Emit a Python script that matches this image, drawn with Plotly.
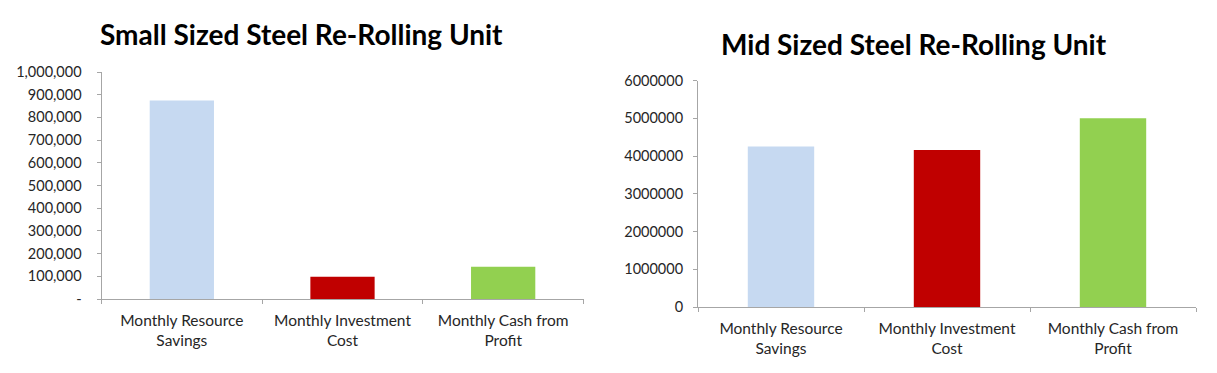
import plotly.graph_objects as go

categories = ["Monthly Resource<br>Savings", "Monthly Investment<br>Cost", "Monthly Cash from<br>Profit"]
colors = ["#c6d9f1", "#c00000", "#92d050"]

small_values = [875000, 98000, 142000]
mid_values = [4250000, 4160000, 5000000]

small_ticks = [0, 100000, 200000, 300000, 400000, 500000, 600000, 700000, 800000, 900000, 1000000]
small_ticklabels = ["-", "100,000", "200,000", "300,000", "400,000", "500,000", "600,000",
                    "700,000", "800,000", "900,000", "1,000,000"]
mid_ticks = [0, 1000000, 2000000, 3000000, 4000000, 5000000, 6000000]
mid_ticklabels = ["0", "1000000", "2000000", "3000000", "4000000", "5000000", "6000000"]

small_title = "Small Sized Steel Re-Rolling Unit"
mid_title = "Mid Sized Steel Re-Rolling Unit"

W, H = 1217, 373
FONT = "Lato, 'Open Sans', sans-serif"

fig = go.Figure()
fig.add_trace(go.Bar(x=categories, y=small_values, marker=dict(color=colors, line=dict(width=0)),
                     xaxis="x", yaxis="y", showlegend=False))
fig.add_trace(go.Bar(x=categories, y=mid_values, marker=dict(color=colors, line=dict(width=0)),
                     xaxis="x2", yaxis="y2", showlegend=False))

def fx(p):
    return p / W

def fy(p):
    return (H - p) / H

axis_common = dict(showgrid=False, zeroline=False, showline=True, linecolor="#a6a6a6", linewidth=1,
                   ticks="outside", tickcolor="#a6a6a6", ticklen=4, fixedrange=True, automargin=False,
                   tickfont=dict(family=FONT, size=14.5, color="#262626"))
xfont = dict(family=FONT, size=15.5, color="#262626")

fig.update_layout(
    width=W, height=H, autosize=False,
    margin=dict(l=0, r=0, t=0, b=0, pad=0),
    paper_bgcolor="white", plot_bgcolor="white",
    bargap=0.6,
    font=dict(family=FONT, color="#262626"),
    xaxis=dict(domain=[fx(101.5), fx(583.5)], anchor="y", tickson="boundaries", **axis_common),
    yaxis=dict(domain=[fy(299), fy(72)], anchor="x", range=[0, 1000000], ticklabelstandoff=12,
               tickvals=small_ticks, ticktext=small_ticklabels, **axis_common),
    xaxis2=dict(domain=[fx(698), fx(1196)], anchor="y2", tickson="boundaries", **axis_common),
    yaxis2=dict(domain=[fy(307), fy(80.5)], anchor="x2", range=[0, 6000000], ticklabelstandoff=7,
                tickvals=mid_ticks, ticktext=mid_ticklabels, **axis_common),
    annotations=[
        dict(text="<b>" + small_title + "</b>", x=fx(301), y=fy(34), xref="paper", yref="paper",
             showarrow=False, xanchor="center", yanchor="middle",
             font=dict(family=FONT, size=28, color="#000000")),
        dict(text="<b>" + mid_title + "</b>", x=fx(914), y=fy(44), xref="paper", yref="paper",
             showarrow=False, xanchor="center", yanchor="middle",
             font=dict(family=FONT, size=28, color="#000000")),
    ],
)
fig.update_xaxes(tickfont=xfont, ticklabelstandoff=7)

fig.write_html(
    "out.html",
    config={"displayModeBar": False},
    post_script="document.body.style.margin='0';document.body.style.overflow='hidden';",
)
